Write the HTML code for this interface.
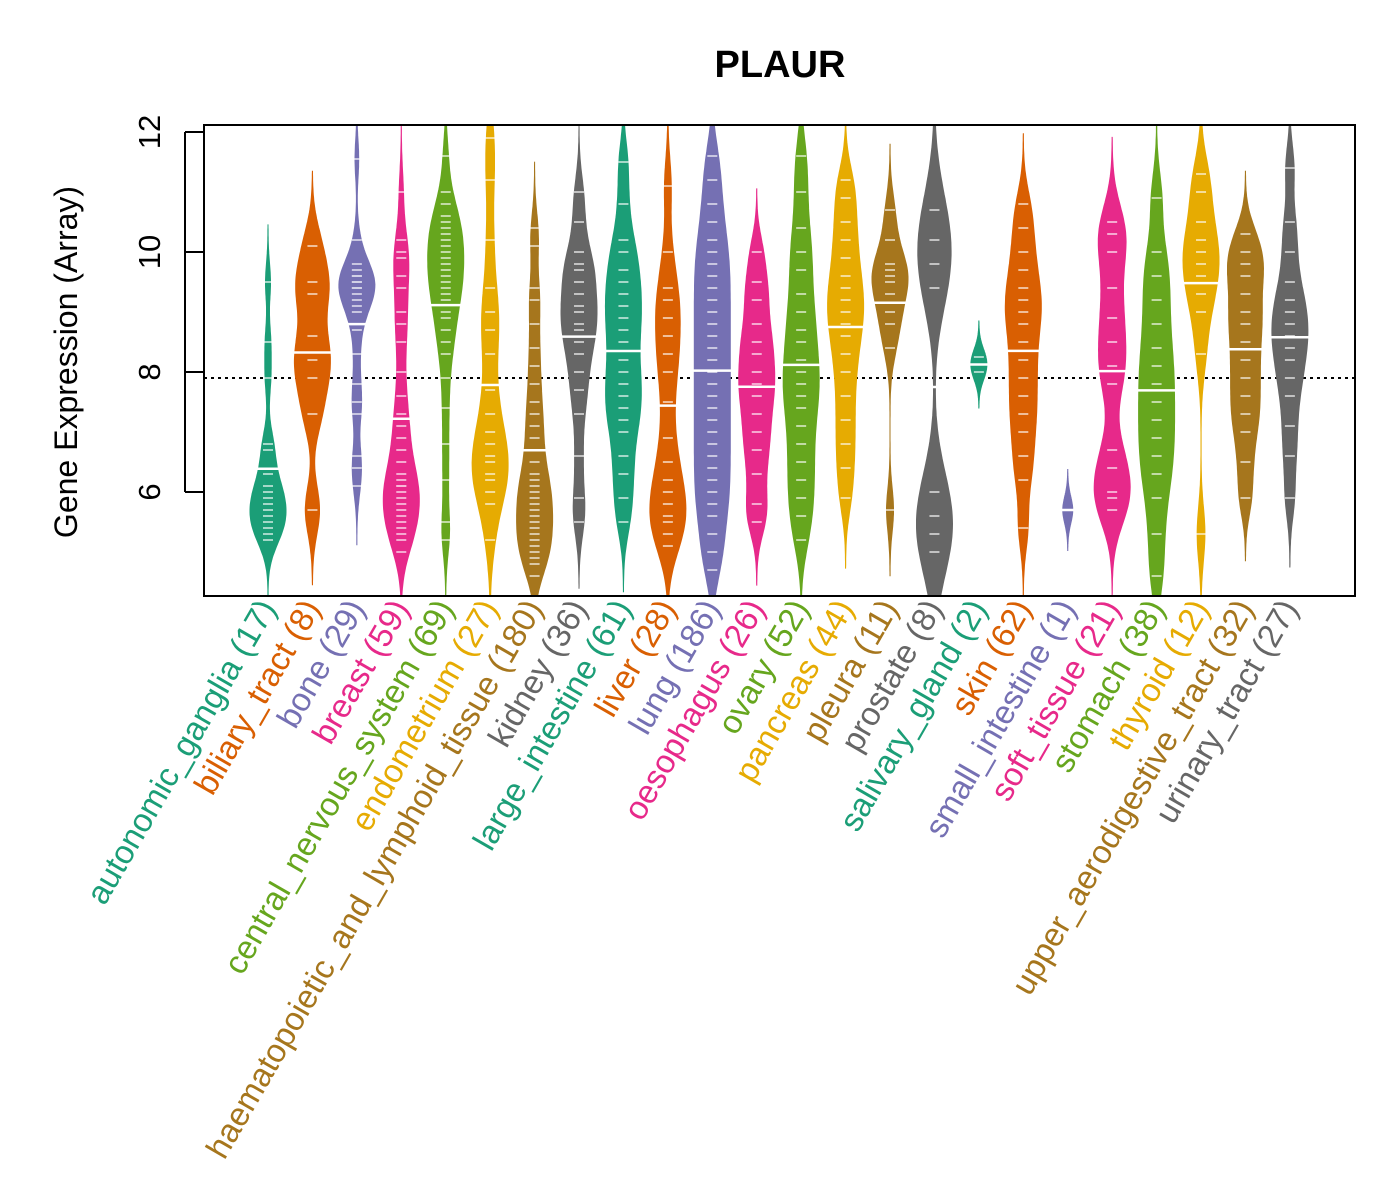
<!DOCTYPE html>
<html><head><meta charset="utf-8"><style>
body{margin:0;background:#fff;}
svg{display:block;font-family:"Liberation Sans",Arial,sans-serif;}
</style></head><body>
<svg id="chart" width="1400" height="1200" viewBox="0 0 1400 1200">
<rect width="1400" height="1200" fill="#fff"/>
<defs><clipPath id="pc"><rect x="204" y="125" width="1151" height="471"/></clipPath></defs>
<text x="780" y="77" text-anchor="middle" font-size="38" font-weight="bold">PLAUR</text>
<text transform="translate(77,362) rotate(-90)" text-anchor="middle" font-size="32">Gene Expression (Array)</text>
<g id="beans" clip-path="url(#pc)"></g>
<g id="axes"></g>
<rect x="204" y="125" width="1151" height="471" fill="none" stroke="#000" stroke-width="2"/>
</svg>
<script>
const categories=["autonomic_ganglia","biliary_tract","bone","breast","central_nervous_system","endometrium","haematopoietic_and_lymphoid_tissue","kidney","large_intestine","liver","lung","oesophagus","ovary","pancreas","pleura","prostate","salivary_gland","skin","small_intestine","soft_tissue","stomach","thyroid","upper_aerodigestive_tract","urinary_tract"];
const counts=[17,8,29,59,69,27,180,36,61,28,186,26,52,44,11,8,2,62,1,21,38,12,32,27];
const yTicks=[6,8,10,12];
const overallMean=7.9;
const values=[
[5.2,5.3,5.4,5.5,5.6,5.7,5.8,5.9,6.0,6.1,6.3,6.7,6.8,7.9,8.5,9.5],
[5.7,7.3,7.9,8.2,8.6,9.3,9.5,10.1],
[6.1,6.4,6.6,7.3,7.5,7.8,8.3,8.7,9.0,9.1,9.2,9.3,9.4,9.4,9.5,9.5,9.6,9.6,9.7,9.8,10.2,11.55],
[5.0,5.2,5.3,5.4,5.5,5.6,5.7,5.8,5.9,6.0,6.1,6.1,6.2,6.3,6.5,6.7,6.9,7.1,7.3,7.6,8.0,8.5,8.8,9.0,9.4,9.6,9.9,10.0,10.2,11.0],
[5.2,5.5,6.2,6.8,7.4,7.9,8.3,8.5,8.7,8.9,9.0,9.2,9.3,9.4,9.5,9.6,9.7,9.8,9.9,10.0,10.1,10.2,10.3,10.4,10.5,10.6,10.8,11.0,11.6],
[5.2,5.8,6.0,6.2,6.3,6.5,6.6,6.8,7.0,7.3,7.7,8.3,8.7,9.0,9.4,10.2,11.2,11.9],
[4.6,4.8,4.9,5.0,5.1,5.2,5.3,5.4,5.5,5.6,5.7,5.8,5.9,6.0,6.1,6.2,6.3,6.5,6.7,6.9,7.1,7.3,7.5,7.8,8.1,8.4,8.8,9.2,9.4,10.1,10.4],
[5.5,5.9,6.6,7.3,7.7,8.0,8.3,8.5,8.7,8.8,9.0,9.1,9.3,9.5,9.7,9.8,10.0,10.5,11.0],
[5.5,5.9,6.3,6.6,7.0,7.2,7.4,7.6,7.8,8.0,8.2,8.5,8.7,8.9,9.1,9.3,9.5,9.7,10.0,10.2,10.8,11.5],
[5.1,5.3,5.5,5.6,5.8,6.0,6.2,6.5,6.9,7.5,8.0,8.3,8.6,8.9,9.2,9.4,10.0,11.1],
[4.7,5.0,5.3,5.6,5.8,6.0,6.2,6.4,6.6,6.8,7.0,7.2,7.4,7.6,7.8,8.0,8.2,8.4,8.6,8.8,9.0,9.2,9.4,9.6,9.8,10.0,10.2,10.5,10.8,11.2,11.6],
[5.5,5.8,6.3,6.7,7.0,7.3,7.6,7.8,8.0,8.3,8.5,8.8,9.2,9.5,10.0],
[5.2,5.6,5.9,6.2,6.5,6.8,7.1,7.4,7.6,7.8,8.0,8.2,8.5,8.7,9.0,9.3,9.7,10.0,10.4,11.0,11.6],
[5.9,6.4,6.8,7.2,7.6,8.0,8.3,8.6,8.8,9.0,9.2,9.4,9.6,9.9,10.2,10.5,10.9,11.2],
[5.7,8.4,8.8,9.0,9.3,9.5,9.6,9.7,9.8,10.2,10.7],
[5.0,5.3,5.6,6.0,9.4,9.8,10.2,10.7],
[8.0,8.25],
[5.4,6.2,6.6,7.0,7.3,7.6,7.9,8.2,8.5,8.8,9.0,9.2,9.4,9.7,10.0,10.4,10.8],
[5.7],
[5.7,5.9,6.0,6.4,6.7,7.8,8.1,8.5,8.9,9.4,10.0,10.3,10.5],
[4.6,5.3,5.9,6.3,6.6,6.9,7.2,7.5,7.8,8.1,8.4,8.8,9.2,9.6,10.0,10.9],
[5.3,8.3,9.0,9.3,9.6,9.8,10.0,10.2,10.5,11.0,11.3],
[5.9,6.5,7.0,7.3,7.6,7.9,8.2,8.5,8.8,9.0,9.3,9.6,9.8,10.0,10.3],
[5.9,6.6,7.1,7.6,7.9,8.2,8.4,8.6,8.8,9.0,9.2,9.5,10.0,10.5,11.4]
];
const colors=["#1B9E77","#D95F02","#7570B3","#E7298A","#66A61E","#E6AB02","#A6761D","#666666"];
const NS="http://www.w3.org/2000/svg";
function xs(i){return 268+i*44.43;}
function ys(v){return 132+(12-v)*60;}
function mk(tag,attrs,parent){const e=document.createElementNS(NS,tag);for(const k in attrs)e.setAttribute(k,attrs[k]);parent.appendChild(e);return e;}
const beans=document.getElementById('beans'),axes=document.getElementById('axes');
const dl=mk('line',{x1:204,x2:1355,y1:ys(overallMean),y2:ys(overallMean),stroke:'#000','stroke-width':2,'stroke-dasharray':'3,4'},beans);


values.forEach((vals,i)=>{
  const col=colors[i%8],cx=xs(i);
  const g=mk('g',{},beans);
  
  
  const n=vals.length,mean=vals.reduce((a,b)=>a+b,0)/n;
  const sd=Math.sqrt(vals.reduce((a,b)=>a+(b-mean)*(b-mean),0)/Math.max(1,n-1))||0.5;
  const bw=Math.max(0.2,0.9*sd*Math.pow(n,-0.2)*0.5);
  const lo=Math.min(...vals)-3*bw,hi=Math.max(...vals)+3*bw;
  const pts=[],steps=140;let dmax=0;
  for(let s=0;s<=steps;s++){const v=lo+(hi-lo)*s/steps;let d=0;vals.forEach(x=>{const z=(v-x)/bw;d+=Math.exp(-0.5*z*z);});pts.push([v,d]);if(d>dmax)dmax=d;}
  const maxw=n<3?(n===1?5:8):18;
  let path='';
  pts.forEach((p,k)=>{path+=(k?'L':'M')+(cx+maxw*p[1]/dmax).toFixed(1)+','+ys(p[0]).toFixed(1);});
  for(let k=pts.length-1;k>=0;k--){const p=pts[k];path+='L'+(cx-maxw*p[1]/dmax).toFixed(1)+','+ys(p[0]).toFixed(1);}
  const pe=mk('path',{d:path+'Z',fill:col,stroke:col,'stroke-width':1},g);
  
  
  vals.forEach(v=>{
    const l=mk('line',{x1:cx-5,x2:cx+5,y1:ys(v),y2:ys(v),stroke:'#fff','stroke-width':1.2},g);
    
    
  });
  const ml=mk('line',{x1:cx-20,x2:cx+20,y1:ys(mean),y2:ys(mean),stroke:'#fff','stroke-width':2.5},g);
  
  
  const t=mk('text',{transform:'translate('+(cx+9)+',608) rotate(-60)','text-anchor':'end','font-size':33,fill:col},axes);
  t.textContent=categories[i]+' ('+counts[i]+')';
  
  
});
mk('line',{x1:185,x2:185,y1:ys(12),y2:ys(6),stroke:'#000','stroke-width':2},axes);
yTicks.forEach(v=>{
  const tl=mk('line',{x1:185,x2:204,y1:ys(v),y2:ys(v),stroke:'#000','stroke-width':2},axes);
  
  
  const t=mk('text',{transform:'translate(160,'+ys(v)+') rotate(-90)','text-anchor':'middle','font-size':31},axes);
  t.textContent=v;
  
  
});
</script>
</body></html>
